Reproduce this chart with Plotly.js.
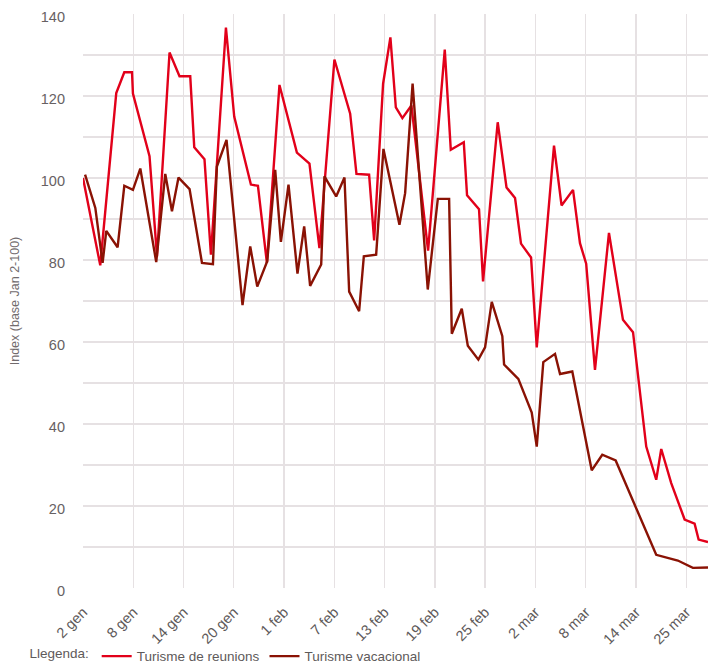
<!DOCTYPE html>
<html>
<head>
<meta charset="utf-8">
<script src="https://cdn.plot.ly/plotly-3.0.1.min.js"></script>
<style>
html,body{margin:0;padding:0;background:#fff;}
#chart{width:708px;height:666px;}
</style>
</head>
<body>
<div id="chart"></div>
<script>
// Tick labels (one every 6 positions on the day axis)
const tickPos = [0, 6, 12, 18, 24, 30, 36, 42, 48, 54, 60, 66, 72];
const tickLabels = ["2 gen", "8 gen", "14 gen", "20 gen", "1 feb", "7 feb", "13 feb", "19 feb", "25 feb", "2 mar", "8 mar", "14 mar", "25 mar"];

// Turisme de reunions
const reunionsX = [0, 2.06, 3.97, 4.93, 5.85, 5.96, 7.94, 8.83, 10.33, 11.52, 12.8, 13.28, 14.5, 15.27, 17.06, 18.05, 20.04, 20.88, 21.95, 23.45, 25.53, 27.03, 28.22, 30.01, 31.89, 32.64, 34.15, 34.75, 35.82, 36.69, 37.34, 38.12, 39.2, 41.19, 43.18, 43.9, 45.45, 45.84, 47.27, 47.75, 49.5, 50.55, 51.57, 52.28, 53.48, 54.16, 56.22, 57.12, 58.49, 59.32, 60.06, 61.11, 62.78, 64.45, 65.65, 67.23, 68.42, 69.02, 70.21, 71.81, 73.0, 73.48, 74.6];
const reunionsY = [100.0, 78.7, 120.7, 125.8, 125.8, 120.6, 105.3, 80.9, 130.6, 124.8, 124.8, 107.5, 104.6, 81.3, 136.7, 115.0, 98.4, 98.1, 79.3, 122.7, 106.2, 103.5, 82.9, 128.9, 115.7, 101.0, 100.8, 84.8, 123.0, 134.3, 117.2, 114.6, 117.7, 82.3, 131.3, 106.9, 108.7, 95.8, 92.4, 74.8, 113.6, 97.7, 95.1, 84.0, 80.6, 58.7, 107.9, 93.3, 97.1, 84.1, 79.1, 53.2, 86.6, 65.4, 62.4, 34.5, 26.4, 33.9, 25.6, 16.7, 15.7, 11.8, 11.2];

// Turisme vacacional
const vacacionalX = [0.25, 1.47, 2.34, 2.78, 4.13, 4.93, 5.96, 6.84, 8.74, 9.82, 10.62, 11.4, 12.72, 14.2, 15.51, 15.98, 17.13, 19.04, 19.96, 20.8, 21.99, 22.94, 23.62, 24.53, 25.6, 26.4, 27.11, 28.43, 28.82, 30.22, 31.21, 31.77, 32.96, 33.52, 34.99, 35.86, 37.77, 38.45, 39.34, 41.15, 42.35, 43.7, 44.02, 45.21, 45.93, 47.19, 47.99, 48.79, 50.05, 50.26, 51.96, 53.56, 54.16, 54.94, 56.34, 56.94, 58.4, 60.72, 61.98, 63.58, 68.42, 71.0, 72.79, 74.6];
const vacacionalY = [100.8, 92.7, 79.3, 87.1, 83.1, 98.1, 97.1, 102.3, 79.5, 101.0, 91.9, 100.1, 97.3, 79.3, 79.0, 102.8, 109.3, 69.0, 83.3, 73.5, 79.7, 102.0, 84.4, 98.4, 76.7, 88.2, 73.7, 78.9, 100.4, 95.5, 100.1, 72.3, 67.5, 80.9, 81.3, 107.1, 88.6, 96.3, 123.0, 72.8, 94.9, 94.9, 62.0, 68.1, 59.1, 55.7, 58.7, 69.8, 61.4, 54.5, 51.0, 42.8, 34.5, 55.1, 57.1, 52.2, 52.8, 28.7, 32.5, 31.1, 8.1, 6.7, 4.9, 5.0];

const seriesNames = ["Turisme de reunions", "Turisme vacacional"];
const seriesColors = ["#e2001a", "#8a1204"];

const traces = [
  {x: reunionsX, y: reunionsY, name: seriesNames[0], type: "scatter", mode: "lines",
   line: {color: seriesColors[0], width: 2.4}},
  {x: vacacionalX, y: vacacionalY, name: seriesNames[1], type: "scatter", mode: "lines",
   line: {color: seriesColors[1], width: 2.4}}
];

const gridColor = "#e6e1e3";
const textColor = "#676163";

const layout = {
  width: 708, height: 666,
  margin: {l: 82.7, r: 0, t: 14.3, b: 77.7, pad: 0, autoexpand: false},
  paper_bgcolor: "#fff", plot_bgcolor: "#fff",
  font: {family: "Liberation Sans, Arial, sans-serif", color: textColor, size: 13},
  showlegend: true,
  xaxis: {
    range: [0, 74.6], tickmode: "array", tickvals: tickPos, ticktext: tickLabels,
    tickangle: -45, showgrid: true, gridcolor: gridColor, gridwidth: 1.3,
    zeroline: false, showline: false, ticks: "", fixedrange: true, automargin: false,
    ticklabelstandoff: 12,
    tickfont: {size: 14.5, color: "#5e5a5a"}
  },
  yaxis: {
    range: [0, 140], tickmode: "linear", tick0: 0, dtick: 20, automargin: false,
    showgrid: true, gridcolor: gridColor, gridwidth: 1.3,
    minor: {dtick: 10, showgrid: true, gridcolor: gridColor, gridwidth: 1.3},
    zeroline: false, showline: false, ticks: "",
    ticklabelstandoff: 17, ticklabelshift: 3,
    tickfont: {size: 14.5, color: textColor},
    title: {text: "Index (base Jan 2-100)", font: {size: 12.5, color: "#716b6d"}, standoff: 18}
  },
  legend: {
    orientation: "h", x: -0.089, xanchor: "left", y: -0.119, yanchor: "middle",
    font: {size: 13.5, color: "#5e5a5a"}, itemwidth: 30,
    title: {text: "Llegenda:", side: "left", font: {size: 13.5, color: "#5e5a5a"}},
    bgcolor: "rgba(0,0,0,0)"
  }
};

Plotly.newPlot("chart", traces, layout, {displayModeBar: false, staticPlot: true});
</script>
</body>
</html>
